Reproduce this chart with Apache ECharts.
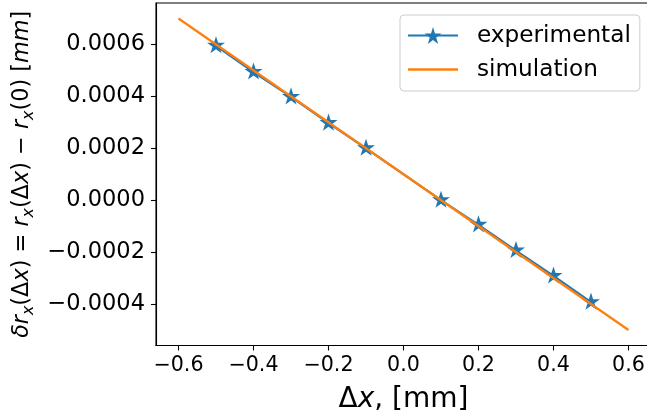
<!DOCTYPE html>
<html>
<head>
<meta charset="utf-8">
<script src="https://cdn.jsdelivr.net/npm/echarts@6/dist/echarts.min.js"></script>
<style>
html,body{margin:0;padding:0;background:#fff;}
#chart{width:647px;height:416px;}
</style>
</head>
<body>
<div id="chart"></div>
<script>
// Data
const xExperimental = [-0.5, -0.4, -0.3, -0.2, -0.1, 0.1, 0.2, 0.3, 0.4, 0.5];
const yExperimental = [0.000595, 0.000494, 0.000398, 0.000297, 0.000200, 0.000000, -0.000095, -0.000194, -0.000292, -0.000393];
const xSimulation = [-0.6, 0.6];
const ySimulation = [0.0007, -0.0005];
const xTicks = [-0.6, -0.4, -0.2, 0.0, 0.2, 0.4, 0.6];
const yTicks = [-0.0004, -0.0002, 0.0, 0.0002, 0.0004, 0.0006];
const seriesNames = ['experimental', 'simulation'];

const FONT = 'DejaVu Sans';
const STAR = 'path://M100,0 L122.45,69.1 L195.1,69.1 L136.3,111.8 L158.8,180.9 L100,138.2 L41.2,180.9 L63.7,111.8 L4.9,69.1 L77.55,69.1 Z';
const LINE_ICON = 'path://M0,0 L50,0 L50,2.3 L0,2.3 Z';
const minus = s => s.replace('-', '\u2212');

const chart = echarts.init(document.getElementById('chart'), null, {renderer: 'canvas'});
const option = {
  animation: false,
  backgroundColor: '#ffffff',
  grid: {
    left: 156, top: 3, width: 495, height: 342.5,
    show: true, borderColor: '#000', borderWidth: 1.1, backgroundColor: 'transparent',
    containLabel: false,
    outerBoundsMode: 'none'
  },
  legend: {
    left: 400, top: 15,
    orient: 'vertical',
    itemWidth: 50, itemHeight: 21, itemGap: 11,
    padding: [9, 9, 10, 7],
    backgroundColor: 'rgba(255,255,255,0.8)',
    borderColor: '#cccccc', borderWidth: 1, borderRadius: 4,
    textStyle: {fontFamily: FONT, fontSize: 23.2, color: '#000', padding: [0, 0, 0, 14]},
    data: [
      {name: seriesNames[0]},
      {name: seriesNames[1], icon: LINE_ICON, itemStyle: {color: '#ff7f0e'}}
    ]
  },
  xAxis: {
    type: 'value', min: -0.66, max: 0.66,
    name: '{d|\u0394}{i|x}{d|, [mm]}',
    nameLocation: 'middle', nameGap: 40,
    nameTextStyle: {
      rich: {
        d: {fontFamily: FONT, fontSize: 28, color: '#000'},
        i: {fontFamily: FONT, fontSize: 28, fontStyle: 'italic', color: '#000'}
      }
    },
    axisLine: {onZero: false, lineStyle: {color: '#000', width: 1.1}},
    axisTick: {show: true, length: 5, lineStyle: {color: '#000', width: 1.1}, customValues: xTicks},
    axisLabel: {fontFamily: FONT, fontSize: 20.6, color: '#000', margin: 10, customValues: xTicks,
      formatter: v => minus(v.toFixed(1))},
    splitLine: {show: false}
  },
  yAxis: {
    type: 'value', min: -0.00056, max: 0.00076,
    name: '{i|\u03b4r}{s|x}{d|(\u0394}{i|x}{d|) = }{i|r}{s|x}{d|(\u0394}{i|x}{d|) \u2212 }{i|r}{s|x}{d|(0) [}{i|mm}{d|]}',
    nameLocation: 'middle', nameGap: 118, nameRotate: 90,
    nameTextStyle: {
      rich: {
        d: {fontFamily: FONT, fontSize: 22.4, color: '#000', lineHeight: 28},
        i: {fontFamily: FONT, fontSize: 22.4, fontStyle: 'italic', color: '#000', lineHeight: 28},
        s: {fontFamily: FONT, fontSize: 15.7, fontStyle: 'italic', color: '#000', lineHeight: 17, verticalAlign: 'bottom'}
      }
    },
    axisLine: {onZero: false, lineStyle: {color: '#000', width: 1.1}},
    axisTick: {show: true, length: 5, lineStyle: {color: '#000', width: 1.1}, customValues: yTicks},
    axisLabel: {fontFamily: FONT, fontSize: 22.5, color: '#000', margin: 11, customValues: yTicks,
      formatter: v => minus(v.toFixed(4))},
    splitLine: {show: false}
  },
  series: [
    {
      name: seriesNames[0], type: 'line',
      data: xExperimental.map((x, i) => [x, yExperimental[i]]),
      symbol: STAR, symbolSize: 18, symbolKeepAspect: true, symbolOffset: [0, -1],
      itemStyle: {color: '#1f77b4'},
      lineStyle: {color: '#1f77b4', width: 2.1},
      z: 2
    },
    {
      name: seriesNames[1], type: 'line',
      data: xSimulation.map((x, i) => [x, ySimulation[i]]),
      symbol: 'none', showSymbol: false,
      itemStyle: {color: '#ff7f0e'},
      lineStyle: {color: '#ff7f0e', width: 2.3},
      z: 3
    }
  ]
};
chart.setOption(option);
</script>
</body>
</html>
